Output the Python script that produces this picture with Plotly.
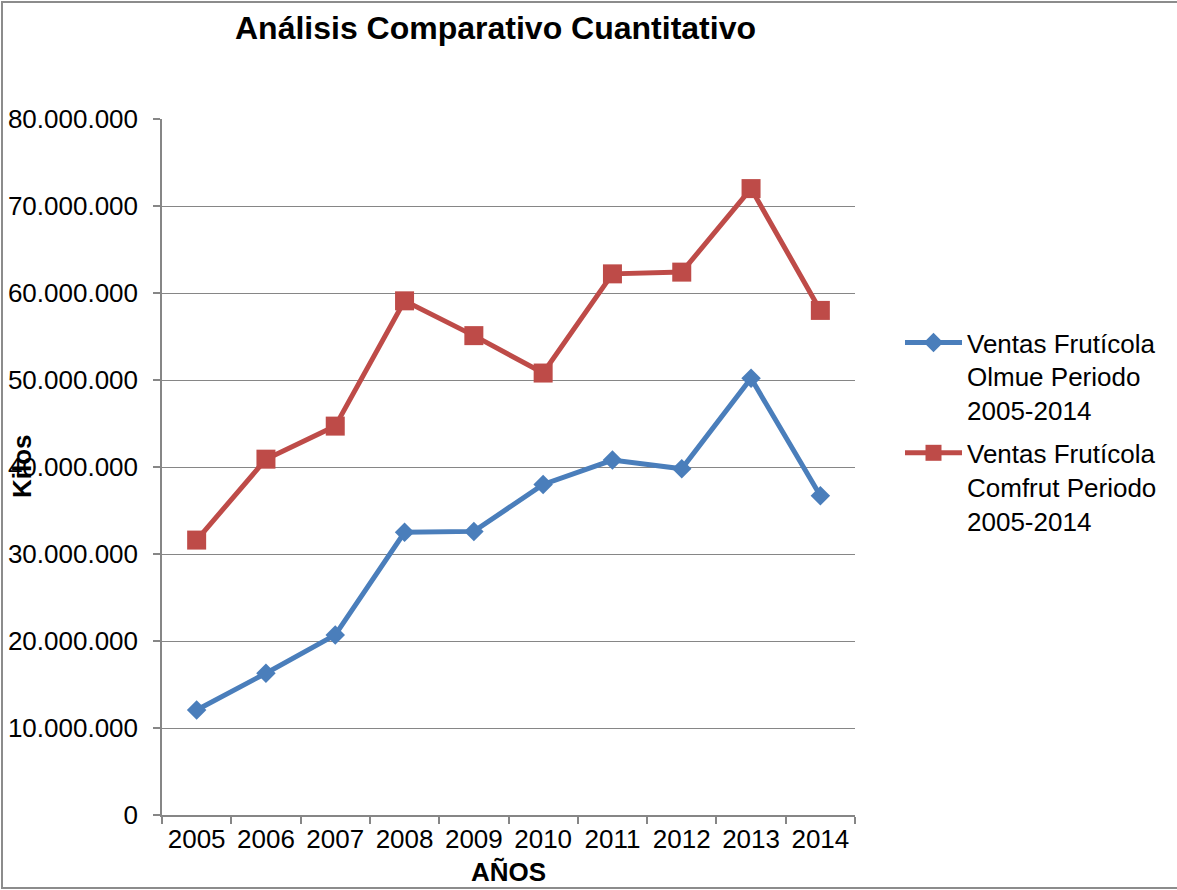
import plotly.graph_objects as go

years = ["2005", "2006", "2007", "2008", "2009", "2010", "2011", "2012", "2013", "2014"]
olmue = [12070000, 16300000, 20700000, 32500000, 32600000, 38000000, 40800000, 39800000, 50200000, 36700000]
comfrut = [31600000, 40900000, 44700000, 59100000, 55100000, 50800000, 62200000, 62400000, 72000000, 58000000]
series_names = ["Ventas Frutícola<br>Olmue Periodo<br>2005-2014",
                "Ventas Frutícola<br>Comfrut Periodo<br>2005-2014"]
y_ticks = [0, 10000000, 20000000, 30000000, 40000000, 50000000, 60000000, 70000000, 80000000]

W, H = 1177, 890
L, R, T, B = 162, 855, 119, 815
pw, ph = R - L, B - T

def px_x(x):
    return (x - L) / pw

def px_y(y):
    return (B - y) / ph

FONT = "Liberation Sans, Arial, sans-serif"
GRID = "#868686"

fig = go.Figure()
fig.add_trace(go.Scatter(
    x=years, y=olmue, name=series_names[0], mode="lines+markers", legendgroup="a",
    line=dict(color="#4A7EBB", width=5),
    marker=dict(symbol="diamond", size=15, color="#4A7EBB"),
))
fig.add_trace(go.Scatter(
    x=years, y=comfrut, name=series_names[1], mode="lines+markers", legendgroup="b",
    line=dict(color="#BE4B48", width=5),
    marker=dict(symbol="square", size=19, color="#BE4B48"),
))

fig.update_layout(
    width=W, height=H,
    margin=dict(l=L, r=W - R, t=T, b=H - B, autoexpand=False),
    paper_bgcolor="white", plot_bgcolor="white",
    separators=",.",
    font=dict(family=FONT, size=26, color="black"),
    showlegend=True,
    legend=dict(
        x=px_x(900), xanchor="left", y=px_y(319), yanchor="top",
        font=dict(size=26, family=FONT),
        valign="top", tracegroupgap=6, itemwidth=57,
        bgcolor="rgba(0,0,0,0)",
    ),
    xaxis=dict(
        type="category", range=[-0.5, 9.5],
        showgrid=False, showline=True, linecolor=GRID, linewidth=1.5,
        ticks="outside", ticklen=7, tickcolor=GRID, tickwidth=1.5,
        tickson="boundaries",
        tickfont=dict(size=26, family=FONT, color="black"),
    ),
    yaxis=dict(
        range=[0, 80000000], tickvals=y_ticks, tickformat=",d",
        showgrid=True, gridcolor=GRID, gridwidth=1.3,
        showline=True, linecolor=GRID, linewidth=1.5,
        ticks="outside", ticklen=7, tickcolor=GRID, tickwidth=1.5,
        ticklabelstandoff=10,
        tickfont=dict(size=26, family=FONT, color="black"),
        zeroline=False,
    ),
    annotations=[
        dict(text="<b>Análisis Comparativo Cuantitativo</b>", xref="paper", yref="paper",
             x=px_x(495), y=px_y(28), xanchor="center", yanchor="middle", showarrow=False,
             font=dict(size=32, family=FONT, color="black")),
        dict(text="<b>Kilos</b>", xref="paper", yref="paper",
             x=px_x(22), y=px_y(466), xanchor="center", yanchor="middle", showarrow=False,
             textangle=-90, font=dict(size=26, family=FONT, color="black")),
        dict(text="<b>AÑOS</b>", xref="paper", yref="paper",
             x=px_x(508), y=px_y(872), xanchor="center", yanchor="middle", showarrow=False,
             font=dict(size=26, family=FONT, color="black")),
    ],
    shapes=[
        dict(type="rect", xref="paper", yref="paper",
             x0=px_x(2), x1=px_x(1190), y0=px_y(2), y1=px_y(888),
             line=dict(color="#8c8c8c", width=2), fillcolor="rgba(0,0,0,0)", layer="below"),
    ],
)

fig.write_html("out.html", config={"displayModeBar": False},
               post_script="document.body.style.margin='0';document.body.style.overflow='hidden';")
